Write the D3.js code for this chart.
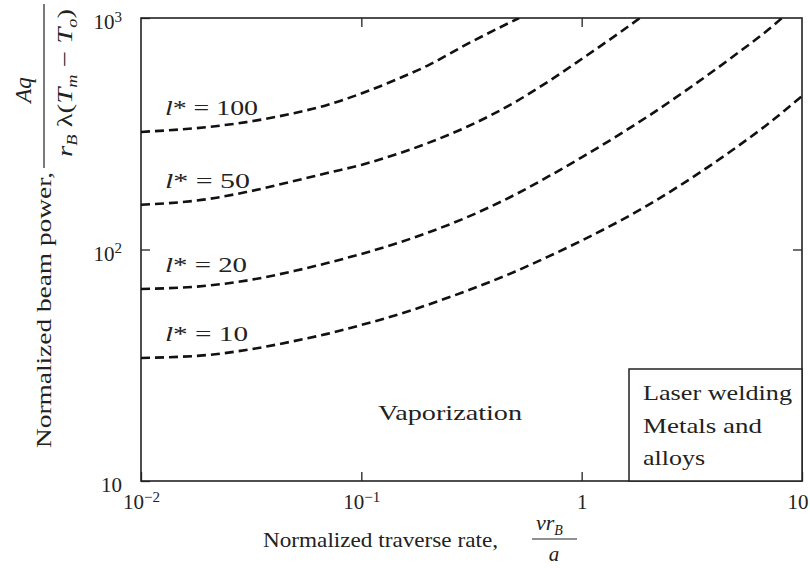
<!DOCTYPE html>
<html>
<head>
<meta charset="utf-8">
<script src="https://cdnjs.cloudflare.com/ajax/libs/d3/7.8.5/d3.min.js"></script>
<style>
body { margin: 0; background: #fff; }
text { font-family: "Liberation Serif", "Times New Roman", serif; fill: #222; }
</style>
</head>
<body>
<script>
//SVG dimension variables
var w = 810, h = 568;
var margin = {left: 141, right: 8, top: 18, bottom: 87};

//axis ticks
var rateTicks = [0.01, 0.1, 1, 10];
var powerTicks = [10, 100, 1000];

//curve levels l*
var levels = [100, 50, 20, 10];

//normalized traverse rate / normalized beam power
var rate100 = [0.01, 0.02, 0.03, 0.05, 0.07, 0.1, 0.15, 0.2, 0.3, 0.52];
var power100 = [322, 338, 355, 389, 421, 472, 551, 623, 769, 1000];

var rate50 = [0.01, 0.02, 0.03, 0.05, 0.07, 0.1, 0.15, 0.2, 0.3, 0.5, 0.7, 1, 1.5, 1.84];
var power50 = [156, 165, 177, 198, 214, 232, 261, 288, 338, 434, 529, 665, 870, 1000];

var rate20 = [0.01, 0.02, 0.03, 0.05, 0.07, 0.1, 0.15, 0.2, 0.3, 0.5, 0.7, 1, 1.5, 2, 3, 5, 7, 8.12];
var power20 = [67.5, 69.8, 73.4, 80.9, 87.4, 95.7, 107.5, 118.2, 137.5, 172.8, 205.7, 250.1, 315.8, 376.2, 489.2, 695.1, 887.6, 1000];

var rate10 = [0.01, 0.02, 0.03, 0.05, 0.07, 0.1, 0.15, 0.2, 0.3, 0.5, 0.7, 1, 1.5, 2, 3, 5, 7, 10];
var power10 = [34.0, 35.0, 36.8, 40.3, 43.2, 47.2, 52.7, 57.7, 66.2, 80.4, 92.9, 109.3, 133.3, 155.4, 197.5, 275.0, 348.4, 460.3];

var rates = [rate100, rate50, rate20, rate10];
var powers = [power100, power50, power20, power10];

window.onload = function(){

    var svg = d3.select("body")
        .append("svg")
        .attr("width", w)
        .attr("height", h);

    var x = d3.scaleLog()
        .domain([0.01, 10])
        .range([margin.left, w - margin.right]);

    var y = d3.scaleLog()
        .domain([10, 1000])
        .range([h - margin.bottom, margin.top]);

    var x0 = x.range()[0], x1 = x.range()[1];
    var y0 = y.range()[0], y1 = y.range()[1];

    //clip for the curves
    svg.append("clipPath").attr("id", "plotclip")
        .append("rect")
        .attr("x", x0).attr("y", y1)
        .attr("width", x1 - x0).attr("height", y0 - y1);

    //tick label with power of ten
    function writeTick(sel){
        sel.each(function(d){
            var e = Math.round(Math.log10(d));
            var t = d3.select(this).text(null);
            if (e === 0) { t.text("1"); return; }
            if (e === 1) { t.text("10"); return; }
            t.append("tspan").text("10");
            t.append("tspan")
                .attr("dy", "-0.5em")
                .style("font-size", "15px")
                .text(String(e).replace("-", "\u2212"));
        });
    }

    //bottom axis
    var gx = svg.append("g")
        .attr("transform", "translate(0," + y0 + ")")
        .call(d3.axisBottom(x).tickValues(rateTicks).tickSizeInner(-9).tickSizeOuter(0).tickFormat(""));
    gx.attr("font-family", null).attr("font-size", 21);
    gx.select(".domain").remove();
    gx.selectAll(".tick line").attr("stroke", "#222").attr("stroke-width", 1.3);
    gx.selectAll(".tick text")
        .attr("y", 28).attr("dy", null)
        .call(writeTick);
    gx.selectAll(".tick text").filter(function(d){ return d === 10; })
        .attr("text-anchor", "end").attr("x", 6);

    //top axis (ticks only)
    var gt = svg.append("g")
        .attr("transform", "translate(0," + y1 + ")")
        .call(d3.axisTop(x).tickValues([0.1, 1]).tickSizeInner(-9).tickSizeOuter(0).tickFormat(""));
    gt.select(".domain").remove();
    gt.selectAll(".tick line").attr("stroke", "#222").attr("stroke-width", 1.3);

    //left axis
    var gy = svg.append("g")
        .attr("transform", "translate(" + x0 + ",0)")
        .call(d3.axisLeft(y).tickValues(powerTicks).tickSizeInner(-9).tickSizeOuter(0).tickFormat(""));
    gy.attr("font-family", null).attr("font-size", 21);
    gy.select(".domain").remove();
    gy.selectAll(".tick line").attr("stroke", "#222").attr("stroke-width", 1.3);
    gy.selectAll(".tick text")
        .attr("x", -19).attr("dy", "0.5em")
        .call(writeTick);

    //right axis (ticks only)
    var gr = svg.append("g")
        .attr("transform", "translate(" + x1 + ",0)")
        .call(d3.axisRight(y).tickValues([100]).tickSizeInner(-9).tickSizeOuter(0).tickFormat(""));
    gr.select(".domain").remove();
    gr.selectAll(".tick line").attr("stroke", "#222").attr("stroke-width", 1.3);

    //frame
    svg.append("rect")
        .attr("x", x0).attr("y", y1)
        .attr("width", x1 - x0).attr("height", y0 - y1)
        .attr("fill", "none")
        .attr("stroke", "#222")
        .attr("stroke-width", 1.6);

    //dashed curves
    var line = d3.line()
        .x(function(d){ return x(d[0]); })
        .y(function(d){ return y(d[1]); })
        .curve(d3.curveMonotoneX);

    svg.append("g").attr("clip-path", "url(#plotclip)")
        .selectAll("path")
        .data(levels)
        .enter()
        .append("path")
        .attr("d", function(d, i){ return line(d3.zip(rates[i], powers[i])); })
        .attr("fill", "none")
        .attr("stroke", "#111")
        .attr("stroke-width", 2.6)
        .attr("stroke-dasharray", "9,5");

    //l* labels
    var labelWidths = [93, 85, 82, 83];
    var labels = svg.append("g").selectAll("text")
        .data(levels)
        .enter()
        .append("text")
        .attr("x", x0 + 24)
        .attr("y", function(d, i){ return y(powers[i][0]) - 17; })
        .attr("font-size", 21)
        .attr("textLength", function(d, i){ return labelWidths[i]; })
        .attr("lengthAdjust", "spacingAndGlyphs");
    labels.append("tspan").style("font-style", "italic").text("l");
    labels.append("tspan").text(function(d){ return "* = " + d; });

    //Vaporization
    svg.append("text")
        .attr("x", 378).attr("y", 420)
        .attr("font-size", 22)
        .attr("textLength", 144)
        .attr("lengthAdjust", "spacingAndGlyphs")
        .text("Vaporization");

    //legend box
    svg.append("rect")
        .attr("x", 629).attr("y", 369)
        .attr("width", x1 - 629).attr("height", y0 - 369)
        .attr("fill", "#fff")
        .attr("stroke", "#222")
        .attr("stroke-width", 1.5);
    var boxLines = ["Laser welding", "Metals and", "alloys"];
    var boxWidths = [149, 119, 62];
    svg.append("g").selectAll("text")
        .data(boxLines)
        .enter()
        .append("text")
        .attr("x", 643)
        .attr("y", function(d, i){ return 400 + i * 32.5; })
        .attr("font-size", 22)
        .attr("textLength", function(d, i){ return boxWidths[i]; })
        .attr("lengthAdjust", "spacingAndGlyphs")
        .text(function(d){ return d; });

    //x title
    svg.append("text")
        .attr("x", 263).attr("y", 547)
        .attr("font-size", 22)
        .attr("textLength", 235)
        .attr("lengthAdjust", "spacingAndGlyphs")
        .text("Normalized traverse rate,");
    var xn = svg.append("text")
        .attr("x", 536).attr("y", 530)
        .attr("font-size", 22)
        .style("font-style", "italic");
    xn.append("tspan").text("vr");
    xn.append("tspan").attr("dy", 5).style("font-size", "14px").text("B");
    svg.append("line")
        .attr("x1", 532).attr("x2", 577)
        .attr("y1", 539).attr("y2", 539)
        .attr("stroke", "#222").attr("stroke-width", 1.2);
    svg.append("text")
        .attr("x", 554).attr("y", 561)
        .attr("text-anchor", "middle")
        .attr("font-size", 21)
        .style("font-style", "italic")
        .text("a");

    //y title (rotated)
    var yt = svg.append("g").attr("transform", "rotate(-90)");
    yt.append("text")
        .attr("x", -448).attr("y", 51)
        .attr("font-size", 22)
        .attr("textLength", 276)
        .attr("lengthAdjust", "spacingAndGlyphs")
        .text("Normalized beam power,");
    yt.append("text")
        .attr("x", -90).attr("y", 31)
        .attr("text-anchor", "middle")
        .attr("font-size", 23)
        .style("font-style", "italic")
        .text("Aq");
    yt.append("line")
        .attr("x1", -4).attr("x2", -168)
        .attr("y1", 44).attr("y2", 44)
        .attr("stroke", "#222").attr("stroke-width", 1.2);
    var den = yt.append("text")
        .attr("x", -157).attr("y", 72)
        .attr("font-size", 22)
        .attr("textLength", 148)
        .attr("lengthAdjust", "spacingAndGlyphs");
    den.append("tspan").style("font-style", "italic").text("r");
    den.append("tspan").attr("dy", 5).style("font-style", "italic").style("font-size", "14px").text("B");
    den.append("tspan").attr("dy", -5).text(" \u03bb(");
    den.append("tspan").style("font-style", "italic").text("T");
    den.append("tspan").attr("dy", 5).style("font-style", "italic").style("font-size", "14px").text("m");
    den.append("tspan").attr("dy", -5).text(" \u2212 ");
    den.append("tspan").style("font-style", "italic").text("T");
    den.append("tspan").attr("dy", 5).style("font-style", "italic").style("font-size", "14px").text("o");
    den.append("tspan").attr("dy", -5).text(")");
};
</script>
</body>
</html>
